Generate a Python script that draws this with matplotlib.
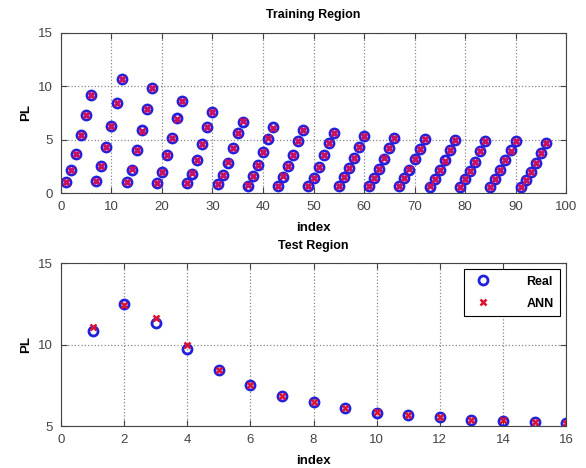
import matplotlib.pyplot as plt
import numpy as np

# Training region (index 1..96), real PL and ANN output
train_real = [1.0, 2.2, 3.7, 5.4, 7.3, 9.2,
              1.1, 2.55, 4.3, 6.3, 8.4, 10.7,
              1.0, 2.2, 4.0, 5.9, 7.9, 9.8,
              0.95, 2.0, 3.55, 5.2, 7.0, 8.6,
              0.9, 1.8, 3.1, 4.6, 6.2, 7.6,
              0.8, 1.7, 2.85, 4.2, 5.6, 6.7,
              0.7, 1.6, 2.6, 3.8, 5.1, 6.15,
              0.7, 1.5, 2.5, 3.6, 4.9, 5.95,
              0.65, 1.45, 2.45, 3.55, 4.65, 5.6,
              0.7, 1.5, 2.3, 3.3, 4.35, 5.35,
              0.7, 1.45, 2.25, 3.2, 4.2, 5.2,
              0.65, 1.4, 2.2, 3.15, 4.1, 5.1,
              0.6, 1.35, 2.15, 3.05, 4.0, 4.95,
              0.6, 1.3, 2.1, 2.95, 3.9, 4.85,
              0.6, 1.35, 2.15, 3.05, 4.0, 4.9,
              0.55, 1.25, 2.0, 2.85, 3.75, 4.65]
train_ann = [1.05, 2.2, 3.65, 5.45, 7.3, 9.15,
             1.1, 2.5, 4.3, 6.3, 8.45, 10.65,
             1.0, 2.25, 4.0, 5.85, 7.9, 9.8,
             0.9, 2.0, 3.6, 5.2, 6.95, 8.6,
             0.9, 1.85, 3.1, 4.6, 6.2, 7.55,
             0.8, 1.7, 2.9, 4.2, 5.6, 6.75,
             0.75, 1.6, 2.6, 3.8, 5.15, 6.1,
             0.7, 1.55, 2.5, 3.6, 4.85, 5.95,
             0.7, 1.45, 2.4, 3.55, 4.7, 5.6,
             0.7, 1.5, 2.35, 3.3, 4.3, 5.3,
             0.7, 1.45, 2.25, 3.25, 4.2, 5.15,
             0.65, 1.4, 2.25, 3.15, 4.1, 5.1,
             0.65, 1.35, 2.15, 3.0, 4.0, 4.95,
             0.6, 1.3, 2.1, 2.95, 3.95, 4.85,
             0.6, 1.35, 2.15, 3.05, 3.95, 4.9,
             0.6, 1.25, 2.0, 2.85, 3.75, 4.7]

# Test region (index 1..16)
test_real = [10.82, 12.52, 11.3, 9.7, 8.42, 7.5, 6.85, 6.45,
             6.1, 5.8, 5.67, 5.53, 5.37, 5.33, 5.27, 5.2]
test_ann = [11.05, 12.45, 11.65, 10.0, 8.45, 7.5, 6.85, 6.45,
            6.1, 5.85, 5.67, 5.55, 5.37, 5.35, 5.27, 5.2]

gray = '#444444'
plt.rcParams['font.family'] = 'Liberation Sans'
plt.rcParams['font.size'] = 9

fig = plt.figure(figsize=(5.86, 4.68), dpi=100)
ax1 = fig.add_axes([0.104, 0.5876, 0.862, 0.342])
ax2 = fig.add_axes([0.104, 0.0897, 0.862, 0.348])

x1 = np.arange(1, len(train_real) + 1)
x2 = np.arange(1, len(test_real) + 1)

ax1.plot(x1, train_real, 'o', color='#2020dd', mfc='none', ms=6.5, mew=2)
ax1.plot(x1, train_ann, 'x', color='#cc1060', ms=5, mew=2)
ax2.plot(x2, test_real, 'o', color='#2020dd', mfc='none', ms=6.5, mew=2, label='Real')
ax2.plot(x2, test_ann, 'x', color='#dd1030', ms=5, mew=1.8, label='ANN')

for ax in (ax1, ax2):
    ax.grid(True, linestyle=':', color='#888888', linewidth=0.9)
    ax.tick_params(direction='in', top=True, right=True, colors=gray,
                   labelsize=9.5, length=4, pad=6)
    for s in ax.spines.values():
        s.set_color(gray)
    ax.set_ylabel('PL', fontweight='bold', fontsize=9.5)
    ax.set_xlabel('index', fontweight='bold', fontsize=9.5, labelpad=6)

ax1.set_xlim(0, 100)
ax1.set_ylim(0, 15)
ax1.set_xticks(range(0, 101, 10))
ax1.set_yticks([0, 5, 10, 15])
ax1.set_title('Training Region', fontweight='bold', fontsize=9, pad=11)

ax2.set_xlim(0, 16)
ax2.set_ylim(5, 15)
ax2.set_xticks(range(0, 17, 2))
ax2.set_yticks([5, 10, 15])
ax2.set_title('Test Region', fontweight='bold', fontsize=9, pad=10)

leg = ax2.legend(loc='upper right', fancybox=False, edgecolor='black',
                 prop={'weight': 'bold', 'size': 9}, borderpad=0.5,
                 handletextpad=2.5, labelspacing=0.8, framealpha=1)
leg.get_frame().set_linewidth(0.8)

fig.savefig('out.png', dpi=100)
